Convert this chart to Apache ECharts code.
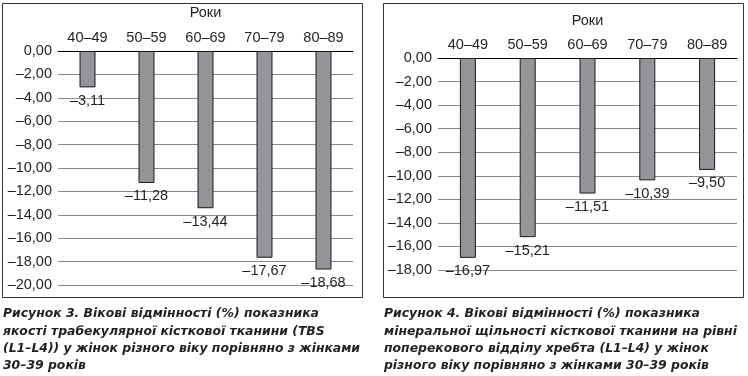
<!DOCTYPE html>
<html><head><meta charset="utf-8">
<script src="https://cdn.jsdelivr.net/npm/echarts@6/dist/echarts.min.js"></script>
<style>html,body{margin:0;padding:0;background:#fff}#c{width:748px;height:376px}</style>
</head><body><div id="c"></div>
<script>
const categories = ['40–49', '50–59', '60–69', '70–79', '80–89'];
const valuesFig3 = [-3.11, -11.28, -13.44, -17.67, -18.68];
const valuesFig4 = [-16.97, -15.21, -11.51, -10.39, -9.50];
const axisName = 'Роки';
const caption3 = ['Рисунок 3. Вікові відмінності (%) показника', 'якості трабекулярної кісткової тканини (TBS', '(L1–L4)) у жінок різного віку порівняно з жінками', '30–39 років'];
const caption4 = ['Рисунок 4. Вікові відмінності (%) показника', 'мінеральної щільності кісткової тканини на рівні', 'поперекового відділу хребта (L1–L4) у жінок', 'різного віку порівняно з жінками 30–39 років'];

const fmt = v => (v < 0 ? '–' : '') + Math.abs(v).toFixed(2).replace('.', ',');
const FONT = 'Liberation Sans, Arial, sans-serif';
const CFONT = '"DejaVu Sans", sans-serif';
const TXT = '#231f20';

function xAx(gi, gap) {
  return {
    type: 'category', gridIndex: gi, data: categories, position: 'top',
    name: axisName, nameLocation: 'middle', nameGap: gap,
    nameTextStyle: {fontFamily: FONT, fontSize: 14.5, color: TXT},
    axisLine: {show: true, lineStyle: {color: '#000', width: 1}},
    axisTick: {show: false},
    axisLabel: {fontFamily: FONT, fontSize: 14.5, color: TXT, margin: 6}
  };
}
function yAx(gi, min) {
  return {
    type: 'value', gridIndex: gi, min: min, max: 0, interval: 2,
    axisLine: {show: false}, axisTick: {show: false},
    axisLabel: {fontFamily: FONT, fontSize: 14.5, color: TXT, margin: 6, formatter: v => fmt(v)},
    splitLine: {lineStyle: {color: '#8a8a8a', width: 1}}
  };
}
function ser(i, data) {
  return {
    type: 'bar', xAxisIndex: i, yAxisIndex: i, data: data, barWidth: 16,
    itemStyle: {color: '#939598', borderColor: '#1a1a1a', borderWidth: 1},
    label: {show: true, position: 'bottom', distance: 6, fontFamily: FONT, fontSize: 14.5, color: TXT, formatter: p => fmt(p.value)}
  };
}
function captionTexts(lines, x) {
  return lines.map((t, k) => ({
    type: 'text', left: x, top: 308 + k * 17.3,
    style: {text: t, font: 'italic bold 12.4px ' + CFONT, fill: TXT}
  }));
}

const chart = echarts.init(document.getElementById('c'), null, {renderer: 'canvas'});
chart.setOption({
  animation: false,
  grid: [
    {left: 58, right: 395, top: 48, bottom: 91},
    {left: 438, right: 11, top: 58, bottom: 106}
  ],
  xAxis: [xAx(0, 31), xAx(1, 30)],
  yAxis: [yAx(0, -20), yAx(1, -18)],
  series: [ser(0, valuesFig3), ser(1, valuesFig4)],
  graphic: [
    {type: 'rect', shape: {x: 2.5, y: 3.5, width: 360, height: 294}, style: {fill: 'none', stroke: '#333', lineWidth: 1}},
    {type: 'rect', shape: {x: 383.5, y: 3.5, width: 360, height: 294}, style: {fill: 'none', stroke: '#333', lineWidth: 1}},
    ...captionTexts(caption3, 3),
    ...captionTexts(caption4, 384)
  ]
});
</script></body></html>
